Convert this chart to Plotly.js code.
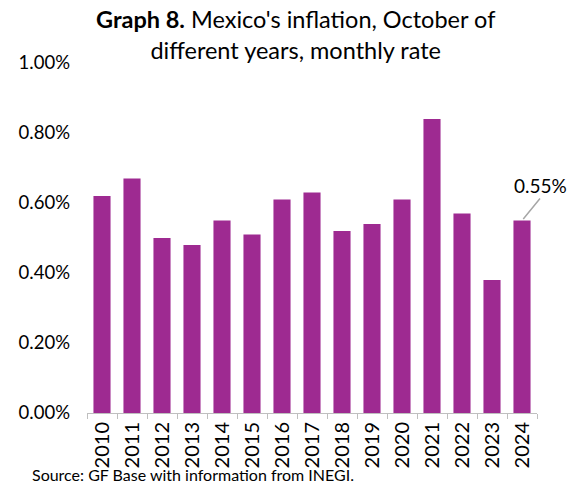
<!DOCTYPE html>
<html><head><meta charset="utf-8">
<script src="https://cdn.plot.ly/plotly-3.0.1.min.js"></script>
<style>html,body{margin:0;padding:0;background:#fff}#c{width:573px;height:485px}</style>
</head><body><div id="c"></div>
<script>
const years = ['2010','2011','2012','2013','2014','2015','2016','2017','2018','2019','2020','2021','2022','2023','2024'];
const rates = [0.62,0.67,0.50,0.48,0.55,0.51,0.61,0.63,0.52,0.54,0.61,0.84,0.57,0.38,0.55];
const yTicks = [0,0.2,0.4,0.6,0.8,1.0];
const yTickText = ['0.00%','0.20%','0.40%','0.60%','0.80%','1.00%'];
const lastLabel = '0.55%';

const font = 'Lato, "Open Sans", sans-serif';
Plotly.newPlot('c', [{
  type:'bar', x: years, y: rates,
  marker:{color:'#9e2a91'}, hoverinfo:'none'
}], {
  width:573, height:485,
  margin:{l:87, r:36, t:63, b:72},
  paper_bgcolor:'#fff', plot_bgcolor:'#fff',
  bargap:0.43,
  showlegend:false,
  font:{family:font, color:'#000', size:16},
  xaxis:{type:'category', range:[-0.5, years.length-0.5], tickangle:-90, showline:true, linecolor:'#bfbfbf', linewidth:1,
    ticks:'outside', ticklen:5, tickcolor:'#bfbfbf', tickson:'boundaries', showgrid:false,
    tickfont:{size:20, family:font}},
  yaxis:{range:[0,1.0], tickvals:yTicks, ticktext:yTickText, showgrid:false, zeroline:false,
    showline:false, ticks:'', tickfont:{size:18.5, family:font}, ticklabelstandoff:16},
  annotations:[
    {text:'<b>Graph 8.</b> Mexico\'s inflation, October of<br>different years, monthly rate',
     xref:'paper', yref:'paper', x:0.464, y:1.08, xanchor:'center', yanchor:'middle',
     showarrow:false, font:{size:23.5, family:font}},
    {x: years.length-1, y: rates[rates.length-1], xref:'x', yref:'y', text:lastLabel,
     showarrow:true, arrowhead:0, arrowcolor:'#a6a6a6', arrowwidth:1.5, standoff:2,
     ax:18, ay:-22, xanchor:'center', yanchor:'bottom', font:{size:19, family:font}},
    {text:'Source: GF Base with information from INEGI.', xref:'paper', yref:'paper',
     x:-0.127, y:-0.177, xanchor:'left', yanchor:'middle', showarrow:false, font:{size:16, family:font}}
  ]
}, {displayModeBar:false});
</script></body></html>
